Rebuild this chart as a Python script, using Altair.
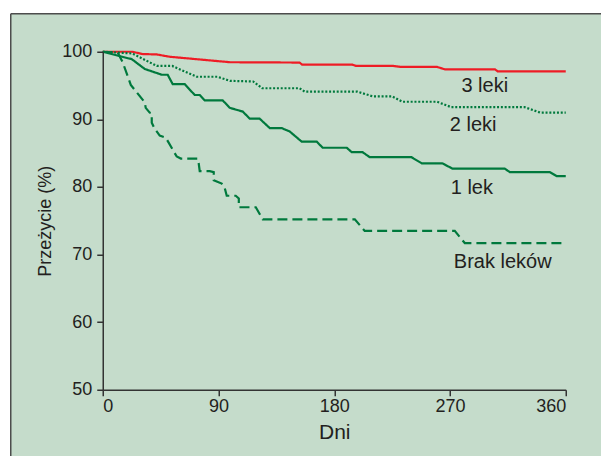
import altair as alt
import pandas as pd

# ---- data ----
series_names = ["3 leki", "2 leki", "1 lek", "Brak leków"]

days_3 = [0, 23, 31, 42, 52, 99, 153, 155, 194, 197, 226, 232, 260, 266, 305, 307, 360]
surv_3 = [100, 100, 99.66, 99.6, 99.26, 98.45, 98.4, 98.1, 98.1, 97.9, 97.9, 97.75, 97.75, 97.4, 97.4, 97.1, 97.1]

days_2 = [0, 23, 42, 54, 73, 89, 99, 117, 124, 153, 157, 198, 210, 225, 233, 260, 271, 328, 340, 360]
surv_2 = [100, 99.75, 97.9, 97.9, 96.3, 96.3, 95.7, 95.6, 94.6, 94.6, 94.1, 94.1, 93.4, 93.4, 92.6, 92.6, 91.8, 91.8, 91.0, 91.0]

days_1 = [0, 22.6, 32.7, 45.9, 50.5, 54.4, 63.8, 71.5, 75.4, 79.3, 93.3, 98.8, 108.9, 114.3, 122, 129.9,
          139.2, 145.4, 154.7, 166.4, 171, 189.7, 193.6, 202, 207.6, 240, 248, 264, 272, 312.6, 316.5,
          347.6, 353, 360]
surv_1 = [100, 98.9, 97.45, 96.6, 96.6, 95.2, 95.2, 93.6, 93.6, 92.8, 92.8, 91.7, 91.15, 90.1, 90.1, 88.7,
          88.7, 88.2, 86.7, 86.7, 85.8, 85.8, 85.15, 85.15, 84.4, 84.4, 83.5, 83.5, 82.7, 82.7, 82.2,
          82.2, 81.6, 81.6]

days_0 = [0, 11.7, 15.6, 21.8, 26.4, 32.7, 33.4, 36.5, 38.1, 38.1, 40.4, 44.3, 49.0, 57.5, 60.7, 73.9,
          74.6, 75.4, 83.2, 86.3, 86.3, 92.5, 94.9, 96.4, 103.4, 105.8, 105.8, 119, 124.4, 196, 203.7,
          273.7, 281.5, 360]
surv_0 = [100, 99.85, 98.4, 95.1, 94.0, 92.5, 91.7, 91.0, 90.9, 89.5, 88.6, 87.6, 87.3, 84.5, 84.2, 84.2,
          83.5, 82.35, 82.35, 82.2, 81.0, 80.5, 79.8, 78.7, 78.7, 78.3, 77.0, 77.0, 75.2, 75.2, 73.5,
          73.5, 71.7, 71.7]

label_text = ["3 leki", "2 leki", "1 lek", "Brak leków"]
label_day = [297, 288, 287, 311]
label_val = [95.0, 89.15, 79.85, 68.9]

x_ticks = [0, 90, 180, 270, 360]
y_ticks = [50, 60, 70, 80, 90, 100]

GREEN = "#00793d"
RED = "#ee1c25"
BG = "#c5dccb"
TXT = "#231f20"
FONT = "Liberation Sans"

rows = []
for name, d, v in zip(series_names, [days_3, days_2, days_1, days_0], [surv_3, surv_2, surv_1, surv_0]):
    for i, (a, b) in enumerate(zip(d, v)):
        rows.append({"series": name, "day": a, "surv": b, "ord": i})
df = pd.DataFrame(rows)

labels_df = pd.DataFrame({"text": label_text, "day": label_day, "surv": label_val})

x_enc = alt.X("day:Q", scale=alt.Scale(domain=[0, 360], nice=False, zero=False),
              axis=alt.Axis(values=x_ticks, title="Dni", grid=False, tickSize=6, labelPadding=2,
                            titlePadding=6, labelFontSize=18, titleFontSize=21,
                            titleFontWeight="normal", zindex=1))
y_enc = alt.Y("surv:Q", scale=alt.Scale(domain=[50, 100], nice=False, zero=False),
              axis=alt.Axis(values=y_ticks, title="Przeżycie (%)", grid=False, tickSize=6,
                            labelPadding=5, titlePadding=7, labelFontSize=18, titleFontSize=18,
                            titleFontWeight="normal", zindex=1))

one = pd.DataFrame({"a": [0]})
frame = alt.Chart(one).mark_rect(fill=BG, strokeWidth=0).encode(
    x=alt.value(-92), x2=alt.value(530), y=alt.value(-38), y2=alt.value(430))
frame_top = alt.Chart(one).mark_rule(color="#4d4d4d", strokeWidth=1.5).encode(
    x=alt.value(-92), x2=alt.value(530), y=alt.value(-38))
frame_left = alt.Chart(one).mark_rule(color="#4d4d4d", strokeWidth=1.5).encode(
    x=alt.value(-92), y=alt.value(-38), y2=alt.value(430))

lines = alt.Chart(df).mark_line(strokeWidth=2.2, strokeCap="butt").encode(
    x=x_enc,
    y=y_enc,
    detail="series:N",
    order="ord:Q",
    color=alt.Color("series:N", scale=alt.Scale(domain=series_names, range=[RED, GREEN, GREEN, GREEN]),
                    legend=None),
    strokeDash=alt.StrokeDash("series:N", scale=alt.Scale(domain=series_names,
                                                          range=[[1, 0], [2, 1.8], [1, 0], [10, 5]]),
                              legend=None),
)

texts = alt.Chart(labels_df).mark_text(fontSize=20, font=FONT, color=TXT, align="center",
                                        baseline="middle").encode(
    x="day:Q", y="surv:Q", text="text:N")

chart = alt.layer(frame, frame_top, frame_left, lines, texts).properties(
    width=463, height=338,
    autosize=alt.AutoSizeParams(type="none"),
    padding={"left": 94.75, "top": 43.75, "right": 35, "bottom": 66},
    background="white",
).configure_view(stroke=None).configure_axis(
    labelFont=FONT, titleFont=FONT, labelColor=TXT, titleColor=TXT,
    domainColor="#333333", tickColor="#333333", domainWidth=1.5, tickWidth=1.5,
)

chart.save("out.html", embed_options={"renderer": "svg", "actions": False})
